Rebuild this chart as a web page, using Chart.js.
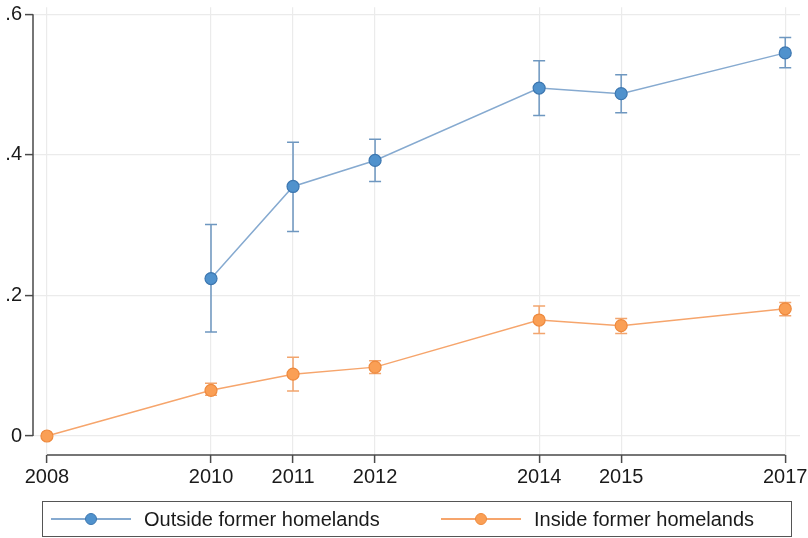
<!DOCTYPE html>
<html>
<head>
<meta charset="utf-8">
<script src="https://cdn.jsdelivr.net/npm/chart.js@4.4.1/dist/chart.umd.min.js"></script>
<style>
html,body{margin:0;padding:0;background:#fff;}
#wrap{position:relative;width:808px;height:538px;}
#legend{position:absolute;left:42px;top:501px;width:748px;height:34px;border:1px solid #555;box-sizing:content-box;font-family:"Liberation Sans",Arial,sans-serif;font-size:20px;color:#1a1a1a;}
.item{position:absolute;top:0;height:34px;line-height:34px;white-space:nowrap;}
.sym{position:absolute;top:17px;width:80px;height:0;}
.sym .ln{position:absolute;left:0;top:-1px;width:80px;height:1.5px;}
.sym .dot{position:absolute;left:34px;top:-6px;width:10px;height:10px;border-radius:50%;}
.txt{position:absolute;left:93px;top:0;}
</style>
</head>
<body>
<div id="wrap">
<canvas id="c" width="808" height="538"></canvas>
<div id="legend"></div>
</div>
<script>
// years on the x axis and y tick values
const YEARS=[2008,2010,2011,2012,2014,2015,2017];
const Y_TICKS=[0,0.2,0.4,0.6];
const Y_LABELS=['0','.2','.4','.6'];

// outside former homelands: mean with 95% CI
const OUT_YEARS=[2010,2011,2012,2014,2015,2017];
const OUT_MEAN=[0.224,0.355,0.392,0.495,0.487,0.545];
const OUT_LO=[0.148,0.291,0.362,0.456,0.460,0.524];
const OUT_HI=[0.301,0.418,0.422,0.534,0.514,0.567];

// inside former homelands
const IN_YEARS=[2008,2010,2011,2012,2014,2015,2017];
const IN_MEAN=[0.000,0.065,0.088,0.098,0.165,0.157,0.181];
const IN_LO=[0.000,0.058,0.064,0.089,0.146,0.146,0.171];
const IN_HI=[0.000,0.075,0.112,0.107,0.185,0.167,0.190];

const SERIES=[
  {label:'Outside former homelands',years:OUT_YEARS,mean:OUT_MEAN,lo:OUT_LO,hi:OUT_HI,
   line:'#86aad0',fill:'#5092cd',edge:'#3d77b0',bar:'#6e97c0'},
  {label:'Inside former homelands',years:IN_YEARS,mean:IN_MEAN,lo:IN_LO,hi:IN_HI,
   line:'#f6a56c',fill:'#fa9f55',edge:'#ee8a3e',bar:'#f2a56e'}
];

const FONT={family:'"Liberation Sans", Arial, sans-serif',size:20};

// whiskers for the confidence intervals
const errorBars={
  id:'errorBars',
  beforeDatasetsDraw(chart){
    const {ctx,scales:{x,y}}=chart;
    ctx.save();
    ctx.lineWidth=1.5;
    SERIES.forEach(s=>{
      ctx.strokeStyle=s.bar;
      s.years.forEach((yr,i)=>{
        if(s.hi[i]===s.lo[i])return;
        const px=x.getPixelForValue(yr);
        const top=y.getPixelForValue(s.hi[i]);
        const bot=y.getPixelForValue(s.lo[i]);
        ctx.beginPath();
        ctx.moveTo(px,top);ctx.lineTo(px,bot);
        ctx.moveTo(px-6,top);ctx.lineTo(px+6,top);
        ctx.moveTo(px-6,bot);ctx.lineTo(px+6,bot);
        ctx.stroke();
      });
    });
    ctx.restore();
  }
};

// detached axis lines spanning the tick range
const axisLines={
  id:'axisLines',
  afterDraw(chart){
    const {ctx,scales:{x,y},chartArea}=chart;
    ctx.save();
    ctx.strokeStyle='#4a4a4a';
    ctx.lineWidth=1.5;
    ctx.beginPath();
    ctx.moveTo(chartArea.left,y.getPixelForValue(Y_TICKS[0]));
    ctx.lineTo(chartArea.left,y.getPixelForValue(Y_TICKS[Y_TICKS.length-1]));
    ctx.moveTo(x.getPixelForValue(YEARS[0]),chartArea.bottom);
    ctx.lineTo(x.getPixelForValue(YEARS[YEARS.length-1]),chartArea.bottom);
    ctx.stroke();
    ctx.restore();
  }
};

new Chart(document.getElementById('c'),{
  type:'line',
  data:{
    datasets:SERIES.map(s=>({
      label:s.label,
      data:s.years.map((yr,i)=>({x:yr,y:s.mean[i]})),
      borderColor:s.line,borderWidth:1.5,
      pointRadius:6,pointBackgroundColor:s.fill,pointBorderColor:s.edge,pointBorderWidth:1.2,
      tension:0
    }))
  },
  options:{
    responsive:false,animation:false,
    layout:{padding:{top:0,right:8,bottom:0,left:0}},
    plugins:{legend:{display:false},tooltip:{enabled:false}},
    scales:{
      x:{
        type:'linear',min:2007.83,max:2017.18,
        afterBuildTicks:sc=>{sc.ticks=YEARS.map(v=>({value:v}))},
        afterFit:sc=>{sc.height=83;sc.paddingLeft=0;sc.paddingRight=0},
        grid:{color:'#ebebeb',lineWidth:1.2,tickColor:'#4a4a4a',tickLength:8,tickWidth:1.5},
        border:{display:false},
        ticks:{font:FONT,color:'#1a1a1a',padding:2,maxRotation:0,autoSkip:false,callback:v=>String(v)}
      },
      y:{
        min:-0.027,max:0.61,
        afterBuildTicks:sc=>{sc.ticks=Y_TICKS.map(v=>({value:v}))},
        afterFit:sc=>{sc.width=33;sc.paddingTop=0;sc.paddingBottom=0},
        grid:{color:'#ebebeb',lineWidth:1.2,tickColor:'#4a4a4a',tickLength:8,tickWidth:1.5},
        border:{display:false},
        ticks:{font:FONT,color:'#1a1a1a',padding:3,autoSkip:false,
          callback:v=>{const i=Y_TICKS.indexOf(v);return i<0?'':Y_LABELS[i]}}
      }
    }
  },
  plugins:[errorBars,axisLines]
});

// legend box below the plot
const lg=document.getElementById('legend');
const LEG_X=[8,398];
SERIES.forEach((s,i)=>{
  const it=document.createElement('div');
  it.className='item';it.style.left=LEG_X[i]+'px';
  it.innerHTML=`<div class="sym"><div class="ln" style="background:${s.line}"></div><div class="dot" style="background:${s.fill};border:1.2px solid ${s.edge}"></div></div><span class="txt">${s.label}</span>`;
  lg.appendChild(it);
});
</script>
</body>
</html>
